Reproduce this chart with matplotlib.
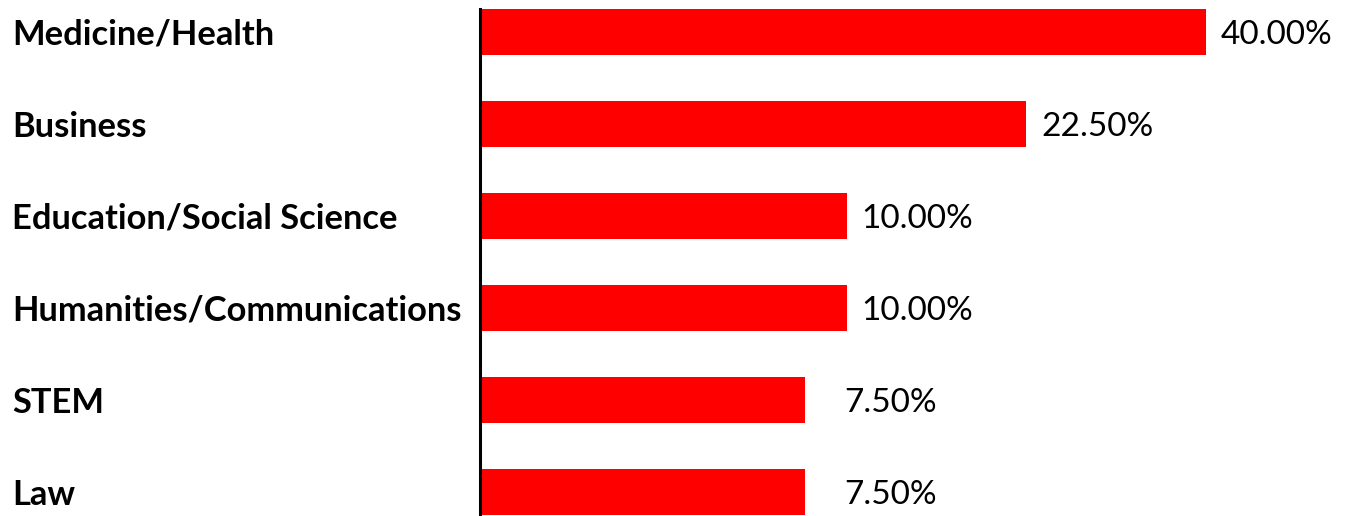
import matplotlib
matplotlib.use('Agg')
import matplotlib.pyplot as plt
import matplotlib.transforms as mtransforms

# categories top to bottom, with the printed value labels
categories = ['Medicine/Health', 'Business', 'Education/Social Science',
              'Humanities/Communications', 'STEM', 'Law']
percent = [40.0, 22.5, 10.0, 10.0, 7.5, 7.5]
# bar lengths as drawn in the picture (same scale, 40 = 40), they are not linear to the labels
bar_length = [40.0, 30.1, 20.2, 20.2, 17.9, 17.9]

W, H = 1346, 516
fig = plt.figure(figsize=(W / 100, H / 100), dpi=100)
ax = fig.add_axes([480 / W, 1 / H, 1 - 480 / W, 506 / H])

ypos = list(range(len(categories)))
bars = ax.barh(ypos, bar_length, height=0.5, color='#ff0000', zorder=2)

ax.set_ylim(5.25, -0.25)
ax.set_xlim(0, (W - 480) / 18.15)

for s in ['top', 'right', 'bottom']:
    ax.spines[s].set_visible(False)
ax.spines['left'].set_linewidth(2.2)
ax.spines['left'].set_color('black')
ax.spines['left'].set_zorder(3)
ax.set_xticks([])
ax.set_yticks([])

# category labels, left aligned at the figure edge
trans = mtransforms.blended_transform_factory(fig.transFigure, ax.transData)
for y, name in zip(ypos, categories):
    ax.text(12 / W, y, name, transform=trans, ha='left', va='center_baseline',
            fontsize=24.8, fontweight='bold', family='Lato', clip_on=False)

# value labels, the small ones sit a bit further out
for b, v in zip(bars, percent):
    pad = 15 if v >= 10 else 39
    ax.annotate(f'{v:.2f}%', (b.get_width(), b.get_y() + b.get_height() / 2),
                xytext=(pad * 0.72, 0), textcoords='offset points',
                ha='left', va='center_baseline', fontsize=24, family='Lato',
                annotation_clip=False)

fig.savefig('out.png', dpi=100)
